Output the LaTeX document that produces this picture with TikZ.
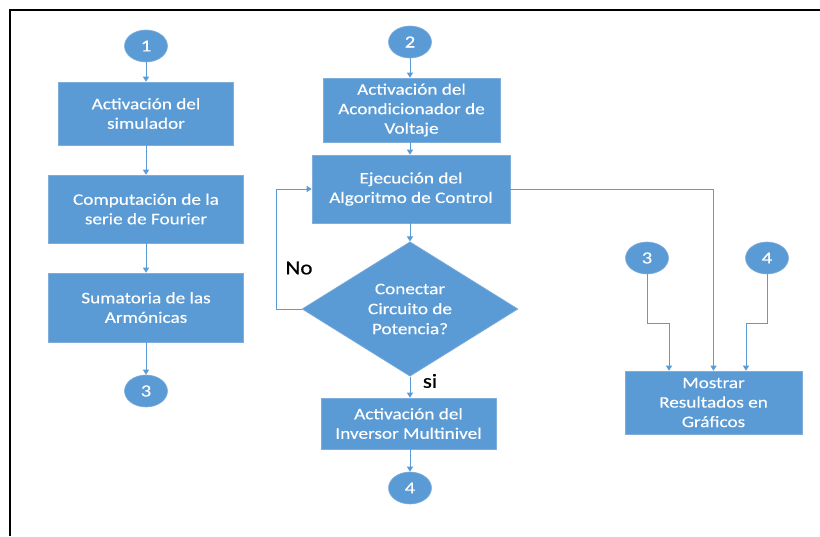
\documentclass[tikz,border=0pt]{standalone}
\usepackage{fontspec}
\setmainfont{Carlito}[FakeStretch=1.2,FakeBold=0.3]
\newfontfamily\lblfont{Carlito}[FakeStretch=1.15,FakeBold=0.6]
\usetikzlibrary{shapes.geometric,arrows.meta}
\definecolor{boxblue}{HTML}{5B9BD5}
\definecolor{edgeblue}{HTML}{7FAEDC}
\definecolor{lineblue}{HTML}{5B9BD5}
\begin{document}
\begin{tikzpicture}[x=1pt,y=-1pt,
  proc/.style={rectangle, fill=boxblue, draw=edgeblue, line width=0.6pt, text=white, align=center, font=\fontsize{16}{19.5}\selectfont, inner sep=0pt},
  conn/.style={ellipse, fill=boxblue, draw=edgeblue, line width=0.6pt, text=white, minimum width=43pt, minimum height=32pt, inner sep=0pt, font=\fontsize{17}{20}\selectfont},
  dec/.style={diamond, fill=boxblue, draw=edgeblue, line width=0.6pt, text=white, align=center, inner sep=0pt, minimum width=216pt, minimum height=128pt, font=\fontsize{16}{20}\selectfont},
  flow/.style={draw=lineblue, line width=0.9pt, -{Triangle[width=6pt,length=5pt]}},
  lbl/.style={text=black, font=\lblfont\fontsize{20}{22}\selectfont}]
\useasboundingbox (0,0) rectangle (820,536);
\fill[white] (0,0) rectangle (820,536);
% frame
\draw[line width=2.6pt] (10,536) -- (10,10) -- (820,10);
% left column
\node[conn] (c1) at (146,46) {1};
\node[proc, minimum width=175pt, minimum height=63pt] (b1) at (146,113.5) {Activación del\\simulador};
\node[proc, minimum width=195pt, minimum height=68pt] (b2) at (146,209) {Computación de la\\serie de Fourier};
\node[proc, minimum width=195pt, minimum height=69pt] (b3) at (146,307.5) {Sumatoria de las\\Armónicas};
\node[conn] (c3) at (146,391) {3};
% middle column
\node[conn] (c2) at (410,42) {2};
\node[proc, minimum width=177pt, minimum height=64pt] (a1) at (411.5,110) {Activación del\\Acondicionador de\\Voltaje};
\node[proc, minimum width=198pt, minimum height=68pt] (e) at (411,189) {Ejecución del\\Algoritmo de Control};
\node[dec] (d) at (410,309) {Conectar\\Circuito de\\Potencia?};
\node[proc, minimum width=175pt, minimum height=51pt] (inv) at (408.5,423.5) {Activación del\\Inversor Multinivel};
\node[conn] (c4) at (410,488) {4};
% right column
\node[conn] (c3r) at (647,258) {3};
\node[conn] (c4r) at (767,258) {4};
\node[proc, minimum width=177pt, minimum height=63pt] (m) at (713.5,402.5) {Mostrar\\Resultados en\\Gráficos};
% connectors left
\draw[flow] (c1.south) -- (c1.south |- b1.north);
\draw[flow] (b1.south) -- (b1.south |- b2.north);
\draw[flow] (b2.south) -- (b2.south |- b3.north);
\draw[flow] (b3.south) -- (b3.south |- c3.north);
% connectors middle
\draw[flow] (c2.south) -- (c2.south |- a1.north);
\draw[flow] (c2.south |- a1.south) -- (c2.south |- e.north);
\draw[flow] (c2.south |- e.south) -- (d.north);
\draw[flow] (d.south) -- (d.south |- inv.north);
\node[lbl] (si) at (430,381) {si};
\draw[flow] (d.south |- inv.south) -- (c4.north);
\coordinate (nob) at (276,309);
\coordinate (not) at (276,189);
\draw[flow] (d.west) -- (nob) -- (not) -- (e.west);
\node[lbl] (no) at (299,268) {No};
% connectors right
\draw[flow] (e.east) -| (m.north);
\coordinate (k3) at (669,323);
\coordinate (k4) at (746,323);
\draw[flow] (c3r.south) |- (k3) -- (k3 |- m.north);
\draw[flow] (c4r.south) |- (k4) -- (k4 |- m.north);
\end{tikzpicture}
\end{document}
